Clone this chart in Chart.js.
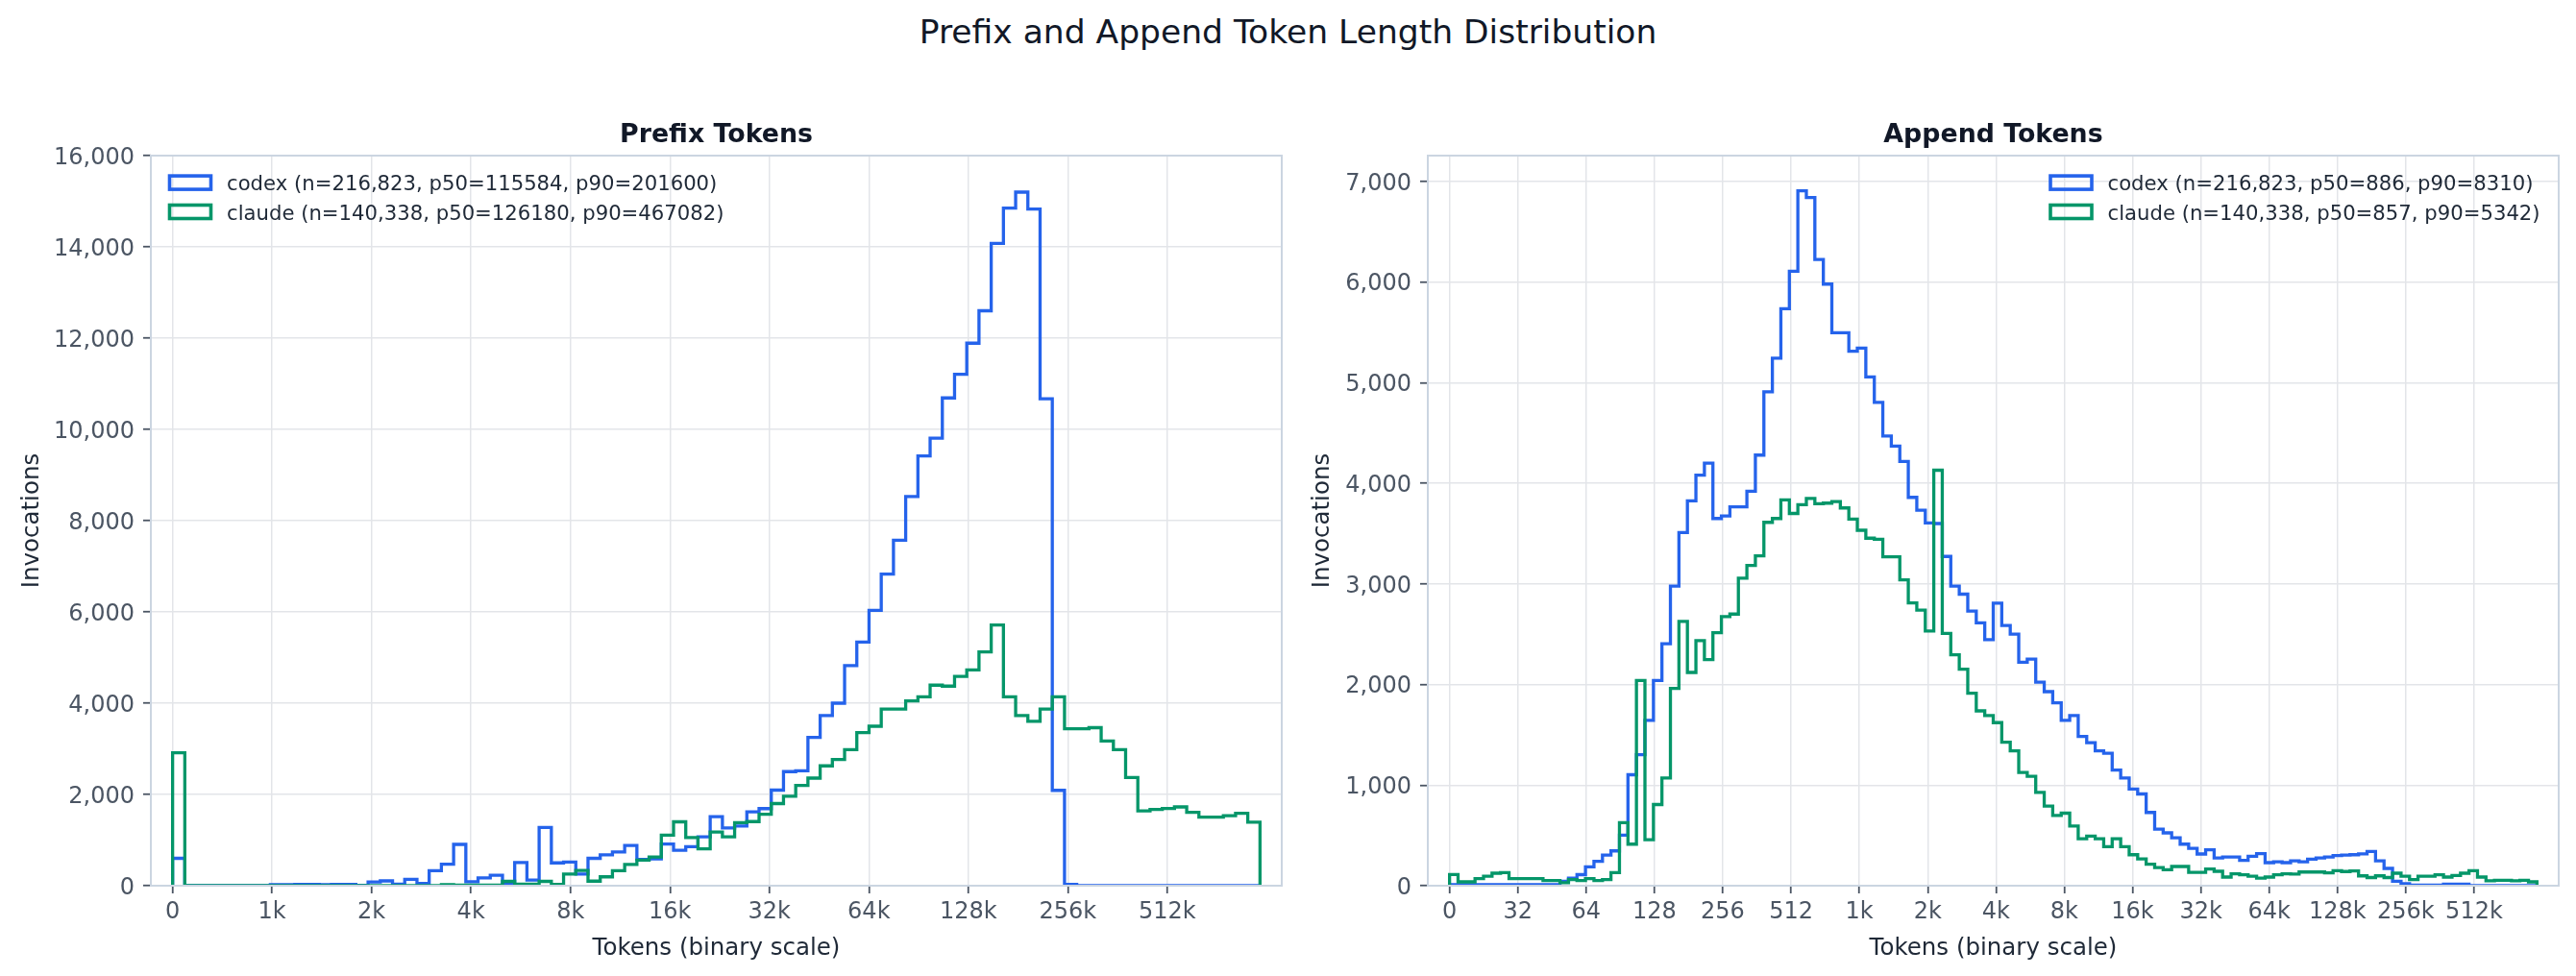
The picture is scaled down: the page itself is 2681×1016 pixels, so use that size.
<!DOCTYPE html>
<html>
<head>
<meta charset="utf-8">
<script src="https://cdn.jsdelivr.net/npm/chart.js@4.4.1/dist/chart.umd.min.js"></script>
<style>
  html, body { margin: 0; padding: 0; background: #ffffff; width: 2681px; height: 1016px; overflow: hidden; }
  #sup { position: absolute; left: 0; top: 12.5px; width: 2681px; text-align: center;
         font-family: "DejaVu Sans"; font-size: 34.5px; line-height: 1.164; color: #111827; white-space: nowrap; }
  #c1 { position: absolute; left: 0; top: 0; }
  #c2 { position: absolute; left: 1340px; top: 0; }
</style>
</head>
<body>
<div id="sup">Prefix and Append Token Length Distribution</div>
<canvas id="c1" width="1340" height="1016"></canvas>
<canvas id="c2" width="1341" height="1016"></canvas>
<script>
// ---------------- DATA ----------------
// Prefix tokens: 89 log2-spaced bins spanning the "0" tick (512 tokens floor) to ~1M tokens
const PREFIX_X_LABELS = ['0', '1k', '2k', '4k', '8k', '16k', '32k', '64k', '128k', '256k', '512k'];
const PREFIX_CODEX = [
  600, 0, 0, 0, 0, 0, 0, 0,
  25, 25, 30, 30, 25, 30, 30, 10,
  80, 105, 35, 140, 52, 330, 470, 905,
  88, 170, 230, 50, 510, 125, 1275, 500,
  520, 255, 600, 675, 740, 880, 575, 585,
  915, 775, 855, 1070, 1515, 1265, 1310, 1620,
  1690, 2095, 2500, 2520, 3250, 3730, 4000, 4825,
  5340, 6035, 6830, 7570, 8530, 9420, 9810, 10690,
  11210, 11890, 12600, 14075, 14850, 15200, 14830, 10670,
  2090, 30, 0, 0, 0, 0, 0, 0,
  0, 0, 0, 0, 0, 0, 0, 0, 0
];
const PREFIX_CLAUDE = [
  2915, 0, 0, 0, 0, 0, 0, 0,
  0, 0, 0, 0, 0, 0, 0, 0,
  0, 0, 0, 0, 0, 0, 25, 15,
  15, 15, 15, 95, 35, 35, 95, 30,
  255, 335, 100, 195, 330, 465, 560, 630,
  1108, 1400, 1055, 810, 1175, 1072, 1380, 1405,
  1565, 1800, 1962, 2198, 2358, 2626, 2766, 2980,
  3355, 3495, 3870, 3870, 4052, 4138, 4395, 4374,
  4588, 4728, 5124, 5714, 4138, 3731, 3602, 3870,
  4138, 3441, 3441, 3463, 3173, 2980, 2369, 1640,
  1672, 1694, 1726, 1608, 1501, 1501, 1533, 1587, 1394
];
const PREFIX_Y_TICKS = [0, 2000, 4000, 6000, 8000, 10000, 12000, 14000, 16000];

// Append tokens: 128 log2-spaced bins spanning the "0" tick (16 tokens floor) to ~1M tokens
const APPEND_X_LABELS = ['0', '32', '64', '128', '256', '512', '1k', '2k', '4k', '8k', '16k', '32k', '64k', '128k', '256k', '512k'];
const APPEND_CODEX = [
  10, 10, 10, 10, 10, 10, 10, 10,
  10, 10, 10, 10, 10, 45, 75, 110,
  188, 242, 305, 346, 503, 1103, 1303, 1643,
  2040, 2405, 2978, 3510, 3825, 4080, 4200, 3650,
  3675, 3765, 3765, 3920, 4280, 4910, 5243, 5735,
  6107, 6908, 6840, 6225, 5980, 5497, 5497, 5312,
  5344, 5058, 4804, 4470, 4369, 4216, 3860, 3733,
  3606, 3600, 3273, 2978, 2898, 2730, 2613, 2445,
  2809, 2587, 2501, 2221, 2253, 2024, 1929, 1818,
  1643, 1691, 1484, 1421, 1341, 1316, 1150, 1071,
  960, 912, 728, 563, 525, 477, 413, 372,
  315, 356, 276, 286, 286, 251, 292, 318,
  229, 238, 229, 248, 237, 264, 276, 286,
  299, 305, 308, 316, 340, 248, 172, 45,
  20, 6, 5, 5, 5, 15, 15, 15,
  0, 0, 0, 0, 0, 0, 0, 0
];
const APPEND_CLAUDE = [
  111, 38, 38, 70, 95, 124, 130, 70,
  70, 70, 70, 51, 51, 29, 60, 51,
  70, 51, 60, 130, 626, 413, 2040, 458,
  807, 1071, 1961, 2627, 2120, 2436, 2247, 2515,
  2675, 2700, 3056, 3183, 3278, 3612, 3650, 3835,
  3700, 3787, 3850, 3797, 3803, 3819, 3755, 3644,
  3533, 3454, 3444, 3269, 3269, 3040, 2811, 2740,
  2532, 4130, 2507, 2295, 2152, 1913, 1738, 1691,
  1621, 1427, 1341, 1125, 1087, 928, 792, 699,
  721, 594, 467, 493, 467, 388, 467, 388,
  308, 267, 213, 181, 159, 191, 191, 133,
  133, 165, 143, 86, 118, 108, 95, 76,
  86, 108, 118, 115, 136, 136, 136, 127,
  149, 141, 146, 98, 81, 98, 81, 124,
  95, 60, 95, 95, 108, 86, 102, 124,
  149, 86, 48, 54, 54, 48, 54, 38
];
const APPEND_Y_TICKS = [0, 1000, 2000, 3000, 4000, 5000, 6000, 7000];

const LEGEND_PREFIX = ['codex (n=216,823, p50=115584, p90=201600)', 'claude (n=140,338, p50=126180, p90=467082)'];
const LEGEND_APPEND = ['codex (n=216,823, p50=886, p90=8310)', 'claude (n=140,338, p50=857, p90=5342)'];

// ---------------- STYLE ----------------
const BLUE = '#2563eb';
const GREEN = '#059669';
const FONT = '"DejaVu Sans"';
const TICK_COLOR = '#4b5563';
const LABEL_COLOR = '#1f2937';
const TITLE_COLOR = '#111827';
const GRID_COLOR = '#e3e5e9';
const FRAME_COLOR = '#cbd5e1';
const LINE_W = 3.3;

Chart.defaults.font.family = 'DejaVu Sans';

function stepPoints(counts, extent) {
  const n = counts.length, w = extent / n;
  const pts = [{ x: 0, y: 0 }];
  counts.forEach((c, i) => pts.push({ x: i * w, y: c }));
  pts.push({ x: n * w, y: 0 });
  return pts;
}

const decor = {
  id: 'decor',
  afterDatasetsDraw(chart, args, o) {
    const { ctx, chartArea: a } = chart;
    ctx.save();
    // frame
    ctx.strokeStyle = FRAME_COLOR;
    ctx.lineWidth = 2;
    ctx.strokeRect(a.left, a.top, a.right - a.left, a.bottom - a.top);
    // subplot title
    ctx.fillStyle = TITLE_COLOR;
    ctx.font = 'bold 26.8px ' + FONT;
    ctx.textAlign = 'center';
    ctx.textBaseline = 'alphabetic';
    ctx.fillText(o.title, (a.left + a.right) / 2, 148);
    // legend
    ctx.font = '21.2px ' + FONT;
    ctx.textAlign = 'left';
    chart.data.datasets.forEach((ds, i) => {
      const top = o.legendTop + i * 30.4;
      ctx.strokeStyle = ds.borderColor;
      ctx.lineWidth = 3.6;
      ctx.strokeRect(o.legendX, top, 43, 14);
      ctx.fillStyle = LABEL_COLOR;
      ctx.fillText(ds.label, o.legendX + 59.5, top + 15.1);
    });
    ctx.restore();
  }
};

function makeChart(el, cfg) {
  const ds = (label, data, color, order) => ({
    label, data: stepPoints(data, cfg.extent), borderColor: color, backgroundColor: 'rgba(0,0,0,0)',
    borderWidth: LINE_W, pointRadius: 0, pointHoverRadius: 0, stepped: 'before', tension: 0, fill: false, order
  });
  return new Chart(el, {
    type: 'line',
    data: { datasets: [
      ds(cfg.legend[0], cfg.codex, BLUE, 2),
      ds(cfg.legend[1], cfg.claude, GREEN, 1)
    ] },
    options: {
      responsive: false, animation: false, devicePixelRatio: 1,
      layout: { padding: { left: 0, top: 162, right: cfg.padRight, bottom: 0 } },
      plugins: {
        legend: { display: false }, tooltip: { enabled: false }, title: { display: false },
        decor: { title: cfg.title, legendX: cfg.legendX, legendTop: 183.1 }
      },
      scales: {
        x: {
          type: 'linear',
          min: -0.02 * cfg.extent, max: 1.02 * cfg.extent,
          afterBuildTicks: s => { s.ticks = cfg.xLabels.map((_, i) => ({ value: i })); },
          afterFit: s => { s.height = 94; },
          ticks: { callback: v => cfg.xLabels[Math.round(v)], autoSkip: false, maxRotation: 0, minRotation: 0,
                   padding: 5.5, color: TICK_COLOR, font: { size: 24 } },
          grid: { color: GRID_COLOR, lineWidth: 1.5, tickLength: 8, tickColor: TICK_COLOR, tickWidth: 1.8 },
          border: { display: false },
          title: { display: true, text: 'Tokens (binary scale)', color: LABEL_COLOR, font: { size: 24.5 },
                   padding: { top: 0, bottom: 13.3 } }
        },
        y: {
          type: 'linear', min: 0, max: cfg.yMax,
          afterBuildTicks: s => { s.ticks = cfg.yTicks.map(v => ({ value: v })); },
          afterFit: s => { s.width = cfg.yWidth; },
          ticks: { callback: v => v.toLocaleString('en-US'), padding: 9, labelOffset: 2.5,
                   color: TICK_COLOR, font: { size: 24 } },
          grid: { color: GRID_COLOR, lineWidth: 1.5, tickLength: 8, tickColor: TICK_COLOR, tickWidth: 1.8 },
          border: { display: false },
          title: { display: true, text: 'Invocations', color: LABEL_COLOR, font: { size: 24.5 },
                   padding: { top: cfg.yTitlePad, bottom: 0 } }
        }
      }
    },
    plugins: [decor]
  });
}

makeChart(document.getElementById('c1'), {
  title: 'Prefix Tokens', extent: 10.932, xLabels: PREFIX_X_LABELS, codex: PREFIX_CODEX, claude: PREFIX_CLAUDE,
  yTicks: PREFIX_Y_TICKS, yMax: 16000, yWidth: 157, padRight: 6, yTitlePad: 18.8,
  legend: LEGEND_PREFIX, legendX: 176.5
});
makeChart(document.getElementById('c2'), {
  title: 'Append Tokens', extent: 15.92, xLabels: APPEND_X_LABELS, codex: APPEND_CODEX, claude: APPEND_CLAUDE,
  yTicks: APPEND_Y_TICKS, yMax: 7257, yWidth: 146, padRight: 18, yTitlePad: 22.1,
  legend: LEGEND_APPEND, legendX: 794
});
</script>
</body>
</html>
